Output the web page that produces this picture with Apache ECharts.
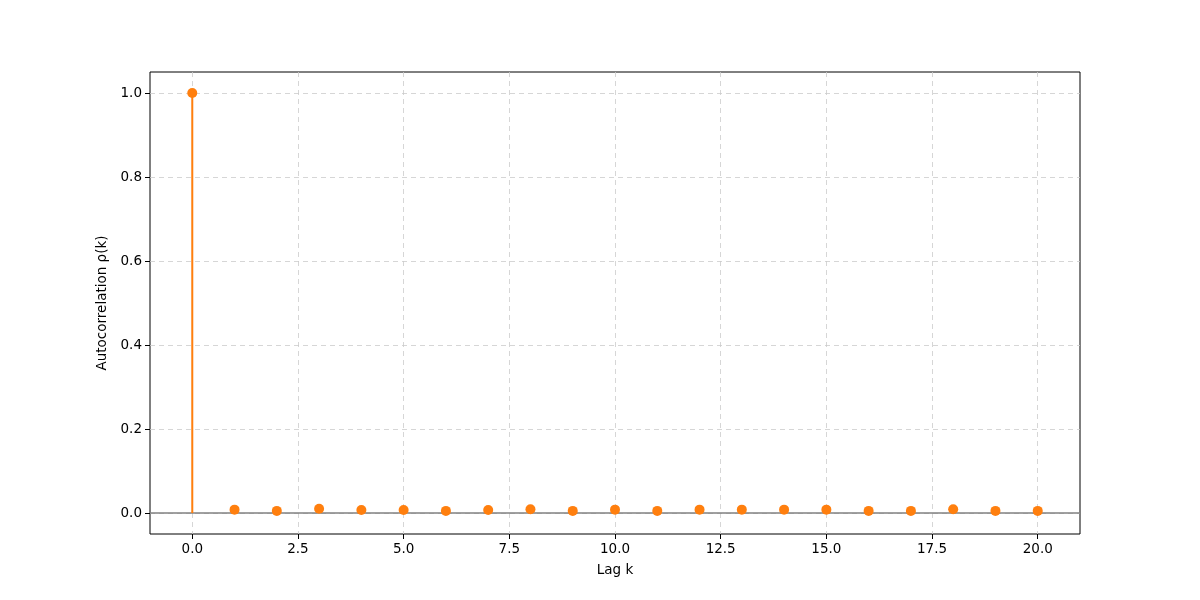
<!DOCTYPE html>
<html>
<head>
<meta charset="utf-8">
<script src="https://cdn.jsdelivr.net/npm/echarts@6/dist/echarts.min.js"></script>
<style>
  html, body { margin: 0; padding: 0; background: #fff; }
  #chart { width: 1200px; height: 600px; }
</style>
</head>
<body>
<div id="chart"></div>
<script>
  // lag k and autocorrelation values
  var lags = [0, 1, 2, 3, 4, 5, 6, 7, 8, 9, 10, 11, 12, 13, 14, 15, 16, 17, 18, 19, 20];
  var rho = [1.0, 0.008, 0.005, 0.010, 0.007, 0.007, 0.005, 0.007, 0.009, 0.005, 0.008,
             0.005, 0.008, 0.008, 0.008, 0.008, 0.005, 0.005, 0.009, 0.005, 0.005];
  var xTicks = [0, 2.5, 5, 7.5, 10, 12.5, 15, 17.5, 20];
  var yTicks = [0, 0.2, 0.4, 0.6, 0.8, 1.0];

  var points = lags.map(function (k, i) { return [k, rho[i]]; });
  var orange = '#ff7f0e';
  var font = 'DejaVu Sans';

  var chart = echarts.init(document.getElementById('chart'));
  chart.setOption({
    animation: false,
    grid: {
      left: 150, right: 120, top: 72, bottom: 66,
      show: true, borderColor: '#000', borderWidth: 1, backgroundColor: 'transparent'
    },
    xAxis: {
      type: 'value',
      min: -1, max: 21,
      name: 'Lag k',
      nameLocation: 'middle',
      nameGap: 29,
      nameTextStyle: { color: '#000', fontSize: 13.5, fontFamily: font },
      axisLine: { show: false, onZero: false },
      axisTick: { show: true, inside: false, length: 5, lineStyle: { color: '#000' }, customValues: xTicks },
      axisLabel: {
        color: '#000', fontSize: 13.5, fontFamily: font, margin: 8,
        customValues: xTicks,
        formatter: function (v) { return v.toFixed(1); }
      },
      splitLine: { show: true, lineStyle: { color: '#cccccc', type: [5, 4], width: 0.8 } }
    },
    yAxis: {
      type: 'value',
      min: -0.05, max: 1.05,
      name: 'Autocorrelation ρ(k)',
      nameLocation: 'middle',
      nameGap: 37,
      nameTextStyle: { color: '#000', fontSize: 13.5, fontFamily: font },
      axisLine: { show: false, onZero: false },
      axisTick: { show: true, inside: false, length: 5, lineStyle: { color: '#000' }, customValues: yTicks },
      axisLabel: {
        color: '#000', fontSize: 13.5, fontFamily: font, margin: 8,
        customValues: yTicks,
        formatter: function (v) { return v.toFixed(1); }
      },
      splitLine: { show: true, lineStyle: { color: '#cccccc', type: [5, 4], width: 0.8 } }
    },
    series: [
      {
        // baseline at zero
        type: 'line',
        data: [[-1, 0], [21, 0]],
        symbol: 'none',
        lineStyle: { color: '#808080', width: 1.5 },
        z: 2
      },
      {
        // stems
        type: 'custom',
        data: points,
        renderItem: function (params, api) {
          var top = api.coord([api.value(0), api.value(1)]);
          var base = api.coord([api.value(0), 0]);
          return {
            type: 'line',
            shape: { x1: base[0], y1: base[1], x2: top[0], y2: top[1] },
            style: { stroke: orange, lineWidth: 2 }
          };
        },
        z: 3
      },
      {
        type: 'scatter',
        data: points,
        symbol: 'circle',
        symbolSize: 10,
        itemStyle: { color: orange, opacity: 1 },
        z: 4
      }
    ]
  });
</script>
</body>
</html>
